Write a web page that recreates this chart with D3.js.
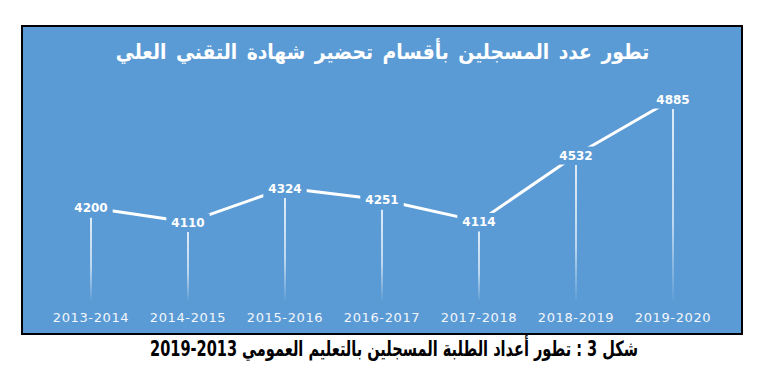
<!DOCTYPE html>
<html><head><meta charset="utf-8">
<script src="https://cdn.jsdelivr.net/npm/d3@7"></script>
<style>
html,body{margin:0;padding:0;background:#fff;}
svg{display:block;}
</style></head>
<body>
<svg id="chart" width="770" height="374"></svg>
<script>
const categories = ["2013-2014","2014-2015","2015-2016","2016-2017","2017-2018","2018-2019","2019-2020"];
const values = [4200, 4110, 4324, 4251, 4114, 4532, 4885];
const title = "تطور عدد المسجلين بأقسام تحضير شهادة التقني العلي";
const caption = "شكل 3 : تطور أعداد الطلبة المسجلين بالتعليم العمومي 2013-2019";

const W = 770, H = 374;
const box = {x: 22, y: 26, w: 720, h: 308};
const bg = "#5b9bd5";
const svg = d3.select("#chart");

const defs = svg.append("defs");
const grad = defs.append("linearGradient").attr("id","drop").attr("x1",0).attr("y1",0).attr("x2",0).attr("y2",1);
grad.append("stop").attr("offset","0%").attr("stop-color","#fff").attr("stop-opacity",1);
grad.append("stop").attr("offset","60%").attr("stop-color","#fff").attr("stop-opacity",0.75);
grad.append("stop").attr("offset","100%").attr("stop-color","#fff").attr("stop-opacity",0.05);

svg.append("rect").attr("x",box.x).attr("y",box.y).attr("width",box.w).attr("height",box.h)
  .attr("fill",bg).attr("stroke","#000").attr("stroke-width",2);

function fitText(sel, target){
  const base = +sel.attr("font-size");
  const len = sel.node().getComputedTextLength();
  sel.attr("font-size", base*target/len);
}

const t = svg.append("text").attr("x",382.5).attr("y",0).attr("text-anchor","middle")
  .attr("direction","rtl").attr("font-family","DejaVu Sans").attr("font-weight","bold")
  .attr("font-size",18).attr("fill","#fff").attr("word-spacing",3).text(title);
fitText(t, 535);
t.attr("transform","translate(0,59) scale(1,1.12)");

const x = d3.scalePoint().domain(categories).range([91, 673]);
const y = d3.scaleLinear().domain([4000, 5000]).range([239.5, 80.8]);
const baseY = 300;

// drop lines
svg.append("g").selectAll("line").data(values).join("line")
  .attr("x1",(d,i)=>x(categories[i])).attr("x2",(d,i)=>x(categories[i]) + 0.01)
  .attr("y1",d=>y(d)+10).attr("y2",baseY)
  .attr("stroke","url(#drop)").attr("stroke-width",1.6);

// line
const pts = values.map((v,i)=>[x(categories[i]), y(v)]);
svg.append("path").attr("d", d3.line()(pts)).attr("fill","none")
  .attr("stroke","#fff").attr("stroke-width",3).attr("stroke-linejoin","round");

// labels with bg
const lg = svg.append("g");
values.forEach((v,i)=>{
  const g = lg.append("g");
  const r = g.append("rect").attr("fill",bg);
  const tx = g.append("text").attr("x",x(categories[i])).attr("y",y(v)+4.5)
    .attr("text-anchor","middle").attr("font-family","DejaVu Sans").attr("font-weight","bold")
    .attr("font-size",12).attr("fill","#fff").text(v);
  const bb = tx.node().getBBox();
  r.attr("x",bb.x-5).attr("y",bb.y-2).attr("width",bb.width+10).attr("height",bb.height+4);
});

// category labels
svg.append("g").selectAll("text").data(categories).join("text")
  .attr("x",d=>x(d)).attr("y",322).attr("text-anchor","middle")
  .attr("font-family","DejaVu Sans").attr("font-size",13).attr("fill","#f2f6fb")
  .attr("letter-spacing",0.6).text(d=>d);

const c = svg.append("text").attr("x",394).attr("y",0).attr("text-anchor","middle")
  .attr("direction","rtl").attr("font-family","DejaVu Sans Condensed, DejaVu Sans").attr("font-weight","bold")
  .attr("font-size",17).attr("fill","#000").text(caption);
fitText(c, 488);
c.attr("transform","translate(0,356) scale(1,1.3)");
</script>
</body></html>
